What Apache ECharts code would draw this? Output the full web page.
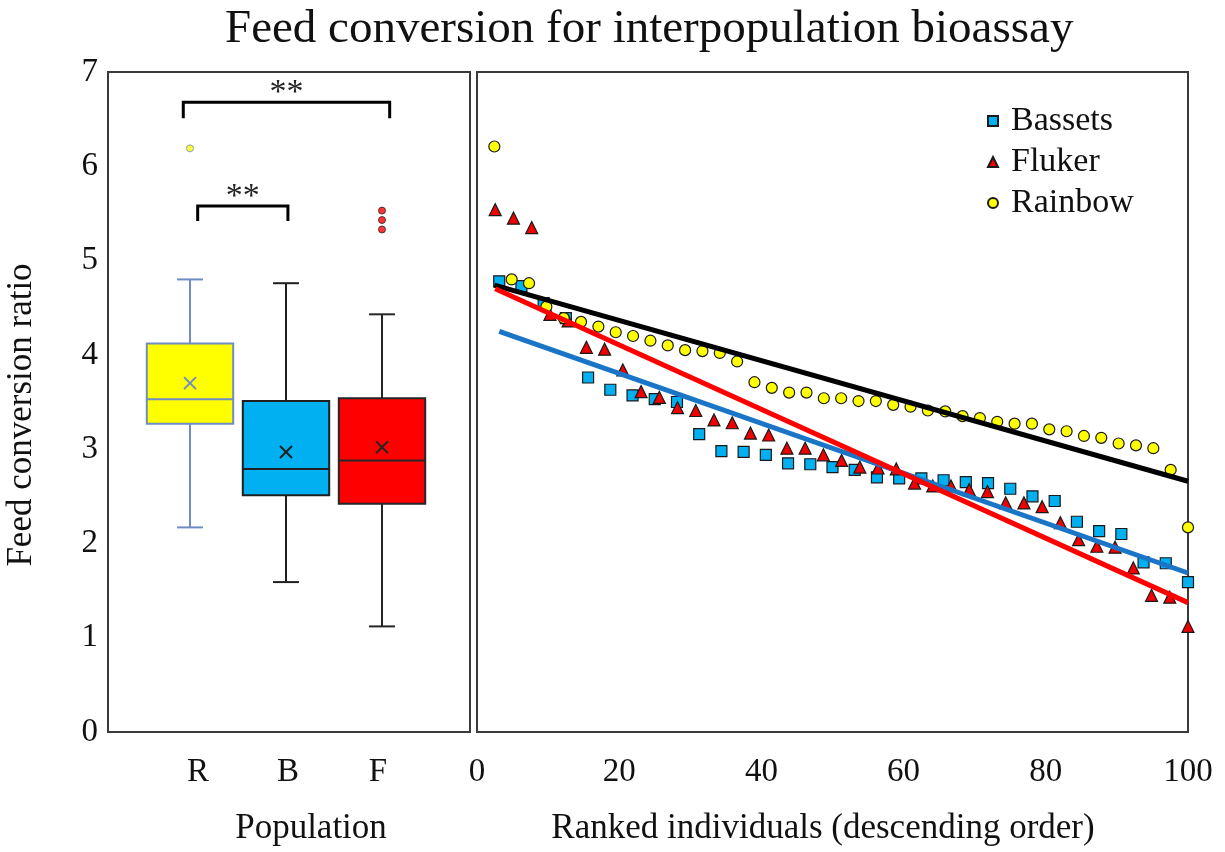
<!DOCTYPE html>
<html>
<head>
<meta charset="utf-8">
<script src="https://cdn.jsdelivr.net/npm/echarts@6/dist/echarts.min.js"></script>
<style>
  html, body { margin: 0; padding: 0; background: #fff; }
  #chart { width: 1225px; height: 852px; }
</style>
</head>
<body>
<div id="chart"></div>
<script>
// Population box plots: [min, Q1, median, Q3, max]
const populations = ['R', 'B', 'F'];
const boxStats = [
  [2.17, 3.27, 3.53, 4.12, 4.80],
  [1.59, 2.51, 2.79, 3.51, 4.76],
  [1.12, 2.42, 2.88, 3.54, 4.43]
];
const boxMeans = [3.70, 2.97, 3.02];
// Outliers: [population index, value]
const boxOutliers = [[0, 6.19], [2, 5.53], [2, 5.43], [2, 5.33]];

// Feed conversion ratio of each individual, ranked in descending order
const bassetsFCR = [4.78, 4.73, 4.55, 4.39, 3.76, 3.63, 3.57, 3.53, 3.50, 3.16,
  2.98, 2.97, 2.94, 2.85, 2.84, 2.81, 2.78, 2.70, 2.69, 2.69,
  2.67, 2.65, 2.64, 2.58, 2.50, 2.45, 2.23, 2.13, 2.10, 1.80,
  1.79, 1.59];
const flukerFCR = [5.54, 5.45, 5.35, 4.43, 4.36, 4.08, 4.06, 3.84, 3.61, 3.55,
  3.44, 3.41, 3.31, 3.28, 3.17, 3.15, 3.01, 3.01, 2.94, 2.88,
  2.81, 2.80, 2.79, 2.64, 2.61, 2.61, 2.57, 2.55, 2.43, 2.43,
  2.39, 2.22, 2.04, 1.97, 1.96, 1.74, 1.45, 1.43, 1.12];
const rainbowFCR = [6.21, 4.80, 4.76, 4.51, 4.39, 4.35, 4.30, 4.24, 4.20, 4.15,
  4.10, 4.05, 4.04, 4.02, 3.93, 3.71, 3.65, 3.60, 3.60, 3.54,
  3.54, 3.51, 3.51, 3.47, 3.45, 3.41, 3.40, 3.35, 3.33, 3.29,
  3.27, 3.27, 3.21, 3.19, 3.14, 3.12, 3.06, 3.04, 3.01, 2.78,
  2.17];

// Significance brackets between populations
const comparisons = [
  { from: 'R', to: 'F', label: '**' },
  { from: 'R', to: 'B', label: '**' }
];

const FONT = '"Liberation Serif", "Times New Roman", serif';
const TEXT = '#111';

// Rank -> percentage of the population
function ranked(values) {
  const n = values.length;
  return values.map((v, i) => [(i + 1) * 100 / n, v]);
}

// Least-squares trend line from the first ranked point to 100 %
function trend(points) {
  const n = points.length;
  let sx = 0, sy = 0, sxx = 0, sxy = 0;
  points.forEach(([x, y]) => { sx += x; sy += y; sxx += x * x; sxy += x * y; });
  const b = (n * sxy - sx * sy) / (n * sxx - sx * sx);
  const a = (sy - b * sx) / n;
  const x0 = points[0][0];
  return [[x0, a + b * x0], [100, a + b * 100]];
}

const bassetsPts = ranked(bassetsFCR);
const flukerPts = ranked(flukerFCR);
const rainbowPts = ranked(rainbowFCR);

const boxLook = [
  { fill: '#FFFF00', stroke: '#6F8CC6' },
  { fill: '#00B0F0', stroke: '#1F1F1F' },
  { fill: '#FF0000', stroke: '#262626' }
];
// bracket geometry in category units (ends) and axis units (heights)
const bracketLook = [
  { x0: -0.07, x1: 0.08, top: 6.68, leg: 6.51 },
  { x0: 0.08, x1: 0.02, top: 5.58, leg: 5.42 }
];

const boxData = boxStats.map((s, i) => [i].concat(s, [boxMeans[i]]));

const chart = echarts.init(document.getElementById('chart'), null, { renderer: 'canvas' });

const option = {
  backgroundColor: '#fff',
  animation: false,
  textStyle: { fontFamily: FONT, color: TEXT },
  title: {
    text: 'Feed conversion for interpopulation bioassay',
    left: 220, top: 1,
    textStyle: { fontFamily: FONT, fontSize: 47, fontWeight: 'normal', color: TEXT }
  },
  legend: {
    orient: 'vertical',
    left: 982, top: 99,
    itemWidth: 10, itemHeight: 10, itemGap: 7,
    textStyle: { fontFamily: FONT, fontSize: 34, color: TEXT, padding: [0, 0, 0, 8] },
    data: [
      { name: 'Bassets', icon: 'rect' },
      { name: 'Fluker', icon: 'triangle' },
      { name: 'Rainbow', icon: 'circle' }
    ]
  },
  grid: [
    { left: 108, top: 72, width: 362, height: 660, show: true, borderColor: '#3a3a3a', borderWidth: 2, backgroundColor: 'transparent' },
    { left: 142, top: 72, width: 288, height: 660 },
    { left: 477, top: 72, width: 711, height: 660, show: true, borderColor: '#3a3a3a', borderWidth: 2, backgroundColor: 'transparent' }
  ],
  xAxis: [
    { gridIndex: 0, type: 'value', min: 0, max: 1, show: false },
    {
      gridIndex: 1, type: 'category', data: populations,
      axisLine: { show: false }, axisTick: { show: false },
      axisLabel: {
        margin: 24,
        formatter: v => '{' + v + '|' + v + '}',
        rich: {
          R: { fontFamily: FONT, fontSize: 33, color: TEXT, padding: [0, 0, 0, 16] },
          B: { fontFamily: FONT, fontSize: 33, color: TEXT, padding: [0, 0, 0, 4] },
          F: { fontFamily: FONT, fontSize: 33, color: TEXT, padding: [0, 8, 0, 0] }
        }
      },
      name: 'Population', nameLocation: 'middle', nameGap: 79,
      nameTextStyle: { fontFamily: FONT, fontSize: 35, color: TEXT, padding: [0, 0, 0, 50] }
    },
    {
      gridIndex: 2, type: 'value', min: 0, max: 100, interval: 20,
      axisLine: { show: false }, axisTick: { show: false }, splitLine: { show: false },
      axisLabel: { margin: 24, fontFamily: FONT, fontSize: 33, color: TEXT },
      name: 'Ranked individuals (descending order)', nameLocation: 'middle', nameGap: 79,
      nameTextStyle: { fontFamily: FONT, fontSize: 35, color: TEXT, padding: [0, 19, 0, 0] }
    }
  ],
  yAxis: [
    {
      gridIndex: 0, type: 'value', min: 0, max: 7, interval: 1,
      axisLine: { show: false }, axisTick: { show: false }, splitLine: { show: false },
      axisLabel: { margin: 10, fontFamily: FONT, fontSize: 33, color: TEXT },
      name: 'Feed conversion ratio', nameLocation: 'middle', nameGap: 69,
      nameTextStyle: { fontFamily: FONT, fontSize: 35, color: TEXT, padding: [0, 26, 0, 0] }
    },
    { gridIndex: 1, type: 'value', min: 0, max: 7, show: false },
    { gridIndex: 2, type: 'value', min: 0, max: 7, show: false }
  ],
  series: [
    {
      name: 'box', type: 'custom', xAxisIndex: 1, yAxisIndex: 1, z: 3,
      data: boxData,
      renderItem: function (params, api) {
        const i = api.value(0);
        const look = boxLook[i];
        const band = api.size([1, 0])[0];
        const half = band * 0.45;
        const capHalf = band * 0.135;
        const pMin = api.coord([i, api.value(1)]);
        const pQ1 = api.coord([i, api.value(2)]);
        const pMed = api.coord([i, api.value(3)]);
        const pQ3 = api.coord([i, api.value(4)]);
        const pMax = api.coord([i, api.value(5)]);
        const pMean = api.coord([i, api.value(6)]);
        const x = pMin[0];
        const line = { stroke: look.stroke, lineWidth: 2 };
        const xs = 6;
        return {
          type: 'group',
          children: [
            { type: 'line', shape: { x1: x, y1: pQ1[1], x2: x, y2: pMin[1] }, style: line },
            { type: 'line', shape: { x1: x, y1: pQ3[1], x2: x, y2: pMax[1] }, style: line },
            { type: 'line', shape: { x1: x - capHalf, y1: pMin[1], x2: x + capHalf, y2: pMin[1] }, style: line },
            { type: 'line', shape: { x1: x - capHalf, y1: pMax[1], x2: x + capHalf, y2: pMax[1] }, style: line },
            { type: 'rect', shape: { x: x - half, y: pQ3[1], width: half * 2, height: pQ1[1] - pQ3[1] },
              style: { fill: look.fill, stroke: look.stroke, lineWidth: 2 } },
            { type: 'line', shape: { x1: x - half, y1: pMed[1], x2: x + half, y2: pMed[1] }, style: line },
            { type: 'line', shape: { x1: x - xs, y1: pMean[1] - xs, x2: x + xs, y2: pMean[1] + xs }, style: line },
            { type: 'line', shape: { x1: x - xs, y1: pMean[1] + xs, x2: x + xs, y2: pMean[1] - xs }, style: line }
          ]
        };
      }
    },
    {
      name: 'outliers', type: 'scatter', xAxisIndex: 1, yAxisIndex: 1, z: 4,
      symbol: 'circle', symbolSize: 7,
      data: boxOutliers.map(o => ({
        value: o,
        itemStyle: { color: boxLook[o[0]].fill, borderColor: boxLook[o[0]].stroke, borderWidth: 1 }
      }))
    },
    {
      name: 'brackets', type: 'custom', xAxisIndex: 1, yAxisIndex: 1, z: 4,
      data: comparisons.map((c, k) => [populations.indexOf(c.from), populations.indexOf(c.to), k]),
      renderItem: function (params, api) {
        const k = api.value(2);
        const g = bracketLook[k];
        const band = api.size([1, 0])[0];
        const xa = api.coord([api.value(0), g.top])[0] + g.x0 * band;
        const xb = api.coord([api.value(1), g.top])[0] + g.x1 * band;
        const yt = api.coord([0, g.top])[1];
        const yl = api.coord([0, g.leg])[1];
        const st = { stroke: '#000', lineWidth: 3, fill: null };
        return {
          type: 'group',
          children: [
            { type: 'polyline', shape: { points: [[xa, yl], [xa, yt], [xb, yt], [xb, yl]] }, style: st },
            { type: 'text', x: (xa + xb) / 2, y: yt - 9,
              style: { text: comparisons[k].label, fontFamily: FONT, fontSize: 34, fill: '#222',
                       align: 'center', verticalAlign: 'middle' } }
          ]
        };
      }
    },
    {
      name: 'Bassets', type: 'scatter', xAxisIndex: 2, yAxisIndex: 2, z: 3,
      symbol: 'rect', symbolSize: 11,
      itemStyle: { color: '#00B0F0', borderColor: '#1a1a1a', borderWidth: 1.2, opacity: 1 },
      data: bassetsPts
    },
    {
      name: 'Fluker', type: 'scatter', xAxisIndex: 2, yAxisIndex: 2, z: 3,
      symbol: 'triangle', symbolSize: 12,
      itemStyle: { color: '#F00000', borderColor: '#1a1a1a', borderWidth: 1.2, opacity: 1 },
      data: flukerPts
    },
    {
      name: 'Rainbow', type: 'scatter', xAxisIndex: 2, yAxisIndex: 2, z: 3,
      symbol: 'circle', symbolSize: 11,
      itemStyle: { color: '#FFFF00', borderColor: '#1a1a1a', borderWidth: 1.2, opacity: 1 },
      data: rainbowPts
    },
    {
      name: 'Rainbow trend', type: 'line', xAxisIndex: 2, yAxisIndex: 2, z: 5,
      symbol: 'none', lineStyle: { color: '#000', width: 5 }, data: trend(rainbowPts)
    },
    {
      name: 'Bassets trend', type: 'line', xAxisIndex: 2, yAxisIndex: 2, z: 5,
      symbol: 'none', lineStyle: { color: '#1B75C6', width: 5 }, data: trend(bassetsPts)
    },
    {
      name: 'Fluker trend', type: 'line', xAxisIndex: 2, yAxisIndex: 2, z: 5,
      symbol: 'none', lineStyle: { color: '#FF0000', width: 5 }, data: trend(flukerPts)
    }
  ]
};

chart.setOption(option);
</script>
</body>
</html>
